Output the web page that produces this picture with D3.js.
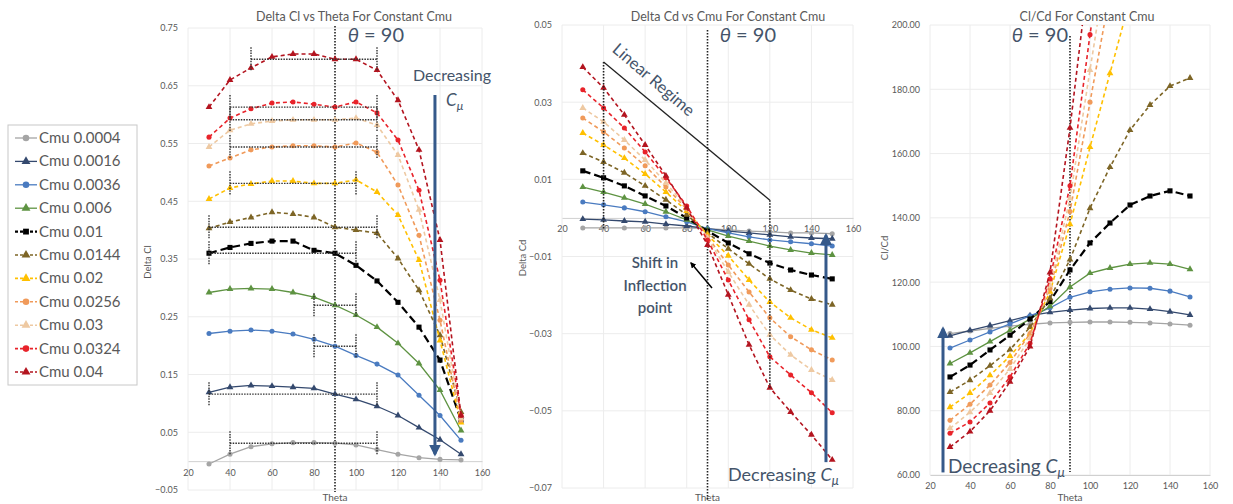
<!DOCTYPE html>
<html>
<head>
<meta charset="utf-8">
<script src="https://cdn.jsdelivr.net/npm/d3@7"></script>
<style>
  body { margin: 0; background: #fff; }
  text { font-family: Lato, "Open Sans", sans-serif; }
</style>
</head>
<body>
<svg id="chart" width="1233" height="504"></svg>
<script>
// data
const thetas = [30, 40, 50, 60, 70, 80, 90, 100, 110, 120, 130, 140, 150];
const thetaTicks = [20, 40, 60, 80, 100, 120, 140, 160];
const cmuNames = ["Cmu 0.0004", "Cmu 0.0016", "Cmu 0.0036", "Cmu 0.006", "Cmu 0.01", "Cmu 0.0144",
  "Cmu 0.02", "Cmu 0.0256", "Cmu 0.03", "Cmu 0.0324", "Cmu 0.04"];

const clTicks = [-0.05, 0.05, 0.15, 0.25, 0.35, 0.45, 0.55, 0.65, 0.75];
const cdTicks = [-0.07, -0.05, -0.03, -0.01, 0.01, 0.03, 0.05];
const ratioTicks = [60, 80, 100, 120, 140, 160, 180, 200];

// Delta Cl vs theta, one row per Cmu
const deltaCl = [
  [-0.005, 0.012, 0.025, 0.030, 0.032, 0.032, 0.031, 0.028, 0.020, 0.012, 0.006, 0.003, 0.002],
  [0.119, 0.128, 0.131, 0.130, 0.128, 0.126, 0.116, 0.107, 0.095, 0.079, 0.058, 0.037, 0.012],
  [0.221, 0.225, 0.227, 0.225, 0.220, 0.211, 0.199, 0.183, 0.168, 0.149, 0.114, 0.079, 0.036],
  [0.292, 0.298, 0.299, 0.298, 0.292, 0.284, 0.270, 0.253, 0.232, 0.204, 0.169, 0.123, 0.053],
  [0.360, 0.370, 0.377, 0.381, 0.381, 0.365, 0.360, 0.339, 0.312, 0.275, 0.232, 0.175, 0.071],
  [0.403, 0.414, 0.422, 0.431, 0.428, 0.422, 0.405, 0.400, 0.395, 0.351, 0.296, 0.218, 0.085],
  [0.454, 0.473, 0.480, 0.485, 0.485, 0.481, 0.481, 0.487, 0.466, 0.426, 0.348, 0.209, 0.067],
  [0.511, 0.525, 0.539, 0.544, 0.546, 0.546, 0.544, 0.551, 0.535, 0.478, 0.391, 0.244, 0.071],
  [0.544, 0.573, 0.584, 0.589, 0.591, 0.591, 0.591, 0.594, 0.582, 0.530, 0.435, 0.279, 0.074],
  [0.561, 0.594, 0.610, 0.620, 0.622, 0.618, 0.613, 0.622, 0.603, 0.556, 0.469, 0.313, 0.079],
  [0.613, 0.660, 0.681, 0.700, 0.705, 0.705, 0.696, 0.696, 0.677, 0.625, 0.539, 0.383, 0.079]
];
// horizontal error bars on the theta = 90 point (theta from / to)
const clErrFrom = [40, 30, 80, 80, 30, 30, 40, 40, 40, 40, 50];
const clErrTo = [110, 110, 100, 100, 100, 110, 100, 110, 110, 110, 110];

// Delta Cd vs theta
const deltaCd = [
  [-0.0026, -0.0026, -0.0026, -0.0026, -0.0026, -0.0026, -0.0028, -0.0031, -0.0034, -0.0036, -0.0039, -0.0039, -0.0041],
  [-0.0003, -0.0005, -0.0008, -0.0010, -0.0016, -0.0021, -0.0028, -0.0034, -0.0039, -0.0044, -0.0049, -0.0052, -0.0054],
  [0.0041, 0.0034, 0.0026, 0.0016, 0.0003, -0.0010, -0.0028, -0.0039, -0.0049, -0.0057, -0.0062, -0.0067, -0.0073],
  [0.0080, 0.0067, 0.0052, 0.0036, 0.0016, -0.0005, -0.0031, -0.0047, -0.0060, -0.0073, -0.0083, -0.0091, -0.0096],
  [0.0122, 0.0104, 0.0083, 0.0057, 0.0031, 0.0000, -0.0034, -0.0065, -0.0093, -0.0117, -0.0135, -0.0148, -0.0158],
  [0.0168, 0.0145, 0.0117, 0.0083, 0.0047, 0.0008, -0.0039, -0.0080, -0.0119, -0.0158, -0.0187, -0.0210, -0.0225],
  [0.0220, 0.0189, 0.0155, 0.0114, 0.0067, 0.0018, -0.0044, -0.0098, -0.0161, -0.0218, -0.0259, -0.0290, -0.0311],
  [0.0259, 0.0223, 0.0181, 0.0135, 0.0080, 0.0023, -0.0049, -0.0122, -0.0192, -0.0259, -0.0308, -0.0342, -0.0368],
  [0.0285, 0.0249, 0.0202, 0.0150, 0.0091, 0.0026, -0.0052, -0.0140, -0.0225, -0.0303, -0.0355, -0.0394, -0.0420],
  [0.0332, 0.0285, 0.0233, 0.0171, 0.0104, 0.0031, -0.0057, -0.0161, -0.0264, -0.0360, -0.0407, -0.0453, -0.0505],
  [0.0391, 0.0337, 0.0267, 0.0189, 0.0109, 0.0026, -0.0070, -0.0199, -0.0329, -0.0440, -0.0503, -0.0562, -0.0627]
];

// Cl/Cd vs theta
const clOverCd = [
  [104.0, 104.8, 105.6, 106.3, 106.9, 107.3, 107.5, 107.6, 107.6, 107.5, 107.3, 107.0, 106.6],
  [103.3, 105.0, 106.5, 108.0, 109.6, 110.6, 111.3, 111.8, 112.0, 112.0, 111.6, 110.8, 109.8],
  [99.5, 102.0, 104.5, 107.0, 109.5, 112.0, 115.3, 117.0, 117.8, 118.2, 118.1, 117.2, 115.4],
  [94.7, 98.0, 101.5, 105.0, 108.5, 112.5, 118.5, 122.8, 124.4, 125.6, 126.0, 125.6, 124.0],
  [90.5, 94.2, 98.9, 103.5, 108.5, 114.0, 123.8, 132.2, 138.4, 144.0, 146.8, 148.4, 146.8],
  [85.8, 89.5, 94.0, 99.0, 106.0, 115.0, 127.0, 143.0, 155.8, 167.3, 175.1, 181.0, 183.5],
  [81.1, 85.5, 91.0, 97.0, 104.0, 117.0, 138.0, 162.0, 185.0, 208.0, 228.0, 245.0, 258.0],
  [77.0, 82.0, 88.0, 95.0, 104.0, 118.0, 142.0, 176.0, 210.0, 240.0, 265.0, 285.0, 300.0],
  [74.5, 79.5, 85.5, 93.0, 102.5, 119.0, 146.0, 186.0, 225.0, 260.0, 290.0, 310.0, 325.0],
  [73.0, 76.5, 82.4, 90.5, 101.0, 121.0, 150.0, 197.0, 240.0, 280.0, 310.0, 335.0, 355.0],
  [68.7, 73.5, 80.0, 89.0, 100.0, 123.0, 168.0, 220.0, 260.0, 300.0, 330.0, 355.0, 375.0]
];

// styles per series
const colors = ["#a5a5a5", "#34496e", "#4a7bc0", "#5e9342", "#000000", "#7d6526",
  "#ffc000", "#f09a5a", "#eec9a2", "#e8232a", "#b3141f"];
const shapes = [d3.symbolCircle, d3.symbolTriangle, d3.symbolCircle, d3.symbolTriangle, d3.symbolSquare,
  d3.symbolTriangle, d3.symbolTriangle, d3.symbolCircle, d3.symbolTriangle, d3.symbolCircle, d3.symbolTriangle];
const dashes = [null, null, null, null, "8,4", "4,3", "4,3", "4,3", "4,3", "4,3", "4,3"];
const widths = [1.3, 1.3, 1.3, 1.3, 2.2, 1.6, 1.6, 1.6, 1.6, 1.6, 1.6];

const annot = "#44546a";
const arrowBlue = "#35598a";
const grid = "#ececec";
const labelGrey = "#595959";

const svg = d3.select("#chart");

const defs = svg.append("defs");
function addArrow(id, color) {
  defs.append("marker")
    .attr("id", id)
    .attr("viewBox", "0 0 10 10")
    .attr("refX", 8).attr("refY", 5)
    .attr("markerWidth", 4).attr("markerHeight", 4)
    .attr("orient", "auto-start-reverse")
    .append("path")
    .attr("d", "M0,0 L10,5 L0,10 z")
    .attr("fill", color);
}
addArrow("arrBlue", arrowBlue);
addArrow("arrBlack", "#000");

function drawPanel(p) {
  const x = d3.scaleLinear().domain([20, 160]).range(p.xRange);
  const y = d3.scaleLinear().domain(p.yDomain).range(p.yRange);
  const g = svg.append("g").attr("class", "panel_" + p.id);

  defs.append("clipPath").attr("id", "clip_" + p.id)
    .append("rect")
    .attr("x", p.xRange[0]).attr("y", p.yRange[1])
    .attr("width", p.xRange[1] - p.xRange[0])
    .attr("height", p.yRange[0] - p.yRange[1]);

  // grid lines
  g.append("g").selectAll("line").data(p.yTicks).enter().append("line")
    .attr("x1", p.xRange[0]).attr("x2", p.xRange[1])
    .attr("y1", d => y(d)).attr("y2", d => y(d))
    .attr("stroke", grid);
  g.append("g").selectAll("line").data(thetaTicks).enter().append("line")
    .attr("x1", d => x(d)).attr("x2", d => x(d))
    .attr("y1", p.yRange[1]).attr("y2", p.yRange[0])
    .attr("stroke", grid);

  // y axis
  const ya = g.append("g")
    .attr("transform", "translate(" + p.xRange[0] + ",0)")
    .call(d3.axisLeft(y).tickValues(p.yTicks).tickFormat(d3.format(".2f")).tickSize(0).tickPadding(10));
  ya.select(".domain").remove();
  ya.selectAll("text").attr("fill", labelGrey).style("font-size", "9px").style("font-family", "Lato");

  // x axis
  const xa = g.append("g")
    .attr("transform", "translate(0," + y(p.xCross) + ")")
    .call(d3.axisBottom(x).tickValues(thetaTicks).tickSize(0).tickPadding(8));
  xa.select(".domain").attr("stroke", "#d0d0d0");
  xa.selectAll("text").attr("fill", labelGrey).style("font-size", "9px").style("font-family", "Lato");

  // titles
  g.append("text").attr("x", p.titleX).attr("y", 21).attr("text-anchor", "middle")
    .attr("fill", labelGrey).style("font-size", "12.5px").text(p.title);
  g.append("text").attr("x", x(90)).attr("y", 501).attr("text-anchor", "middle")
    .attr("fill", labelGrey).style("font-size", "10px").text("Theta");
  g.append("text")
    .attr("transform", "translate(" + p.yTitleX + "," + p.yTitleY + ") rotate(-90)")
    .attr("text-anchor", "middle").attr("fill", labelGrey).style("font-size", "9.5px").text(p.yTitle);

  return { x, y, g };
}

function drawSeries(panel, rows, id) {
  const line = d3.line().x((d, i) => panel.x(thetas[i])).y(d => panel.y(d));
  const sg = panel.g.append("g").attr("clip-path", "url(#clip_" + id + ")");
  rows.forEach(function (row, k) {
    sg.append("path")
      .attr("d", line(row))
      .attr("fill", "none")
      .attr("stroke", colors[k])
      .attr("stroke-width", widths[k])
      .attr("stroke-dasharray", dashes[k]);
    sg.selectAll(null).data(row).enter().append("path")
      .attr("transform", (d, i) => "translate(" + panel.x(thetas[i]) + "," + panel.y(d) + ")")
      .attr("d", d3.symbol().type(shapes[k]).size(k === 4 ? 26 : 20))
      .attr("fill", colors[k]);
  });
  return sg;
}

function thetaLabel(g, xEnd, yPos) {
  const t = g.append("text").attr("x", xEnd).attr("y", yPos).attr("text-anchor", "end")
    .attr("fill", annot).style("font-size", "20px");
  t.append("tspan").attr("font-style", "italic").text("θ");
  t.append("tspan").text(" = 90");
}

function cmuText(g, xPos, yPos, size, withWord) {
  const t = g.append("text").attr("x", xPos).attr("y", yPos).attr("fill", annot).style("font-size", size + "px");
  if (withWord) t.append("tspan").text("Decreasing ");
  t.append("tspan").attr("font-style", "italic").text("C");
  t.append("tspan").attr("font-style", "italic").attr("dy", 4).style("font-size", (size * 0.7) + "px").text("μ");
}

/* LEFT: Delta Cl */
const left = drawPanel({
  id: "cl", xRange: [188, 482], yDomain: [-0.05, 0.75], yRange: [490, 28], yTicks: clTicks, xCross: 0,
  title: "Delta Cl vs Theta For Constant Cmu", titleX: 354, yTitle: "Delta Cl", yTitleX: 151, yTitleY: 262
});
// theta = 90 line
left.g.append("line")
  .attr("x1", left.x(90)).attr("x2", left.x(90)).attr("y1", 26).attr("y2", 492)
  .attr("stroke", "#222").attr("stroke-width", 1.6).attr("stroke-dasharray", "1.5,1.5");
drawSeries(left, deltaCl, "cl");
// error bars
const eb = left.g.append("g").attr("class", "err");
deltaCl.forEach(function (row, k) {
  const yy = left.y(row[6]);
  eb.append("line").attr("x1", left.x(clErrFrom[k])).attr("x2", left.x(clErrTo[k]))
    .attr("y1", yy).attr("y2", yy);
  [clErrFrom[k], clErrTo[k]].forEach(function (t) {
    eb.append("line").attr("x1", left.x(t)).attr("x2", left.x(t))
      .attr("y1", yy - 12).attr("y2", yy + 12);
  });
});
eb.selectAll("line").attr("stroke", "#333").attr("stroke-width", 1.4).attr("stroke-dasharray", "1.5,1.2");
thetaLabel(left.g, 404, 42);
left.g.append("text").attr("x", 413).attr("y", 81).attr("fill", annot).style("font-size", "16px").text("Decreasing");
cmuText(left.g, 446, 106, 17, false);
left.g.append("line")
  .attr("x1", left.x(137.6)).attr("x2", left.x(137.6))
  .attr("y1", left.y(0.634)).attr("y2", left.y(0.012))
  .attr("stroke", arrowBlue).attr("stroke-width", 3)
  .attr("marker-end", "url(#arrBlue)");

/* MIDDLE: Delta Cd */
const mid = drawPanel({
  id: "cd", xRange: [562, 853], yDomain: [-0.07, 0.05], yRange: [488, 25], yTicks: cdTicks, xCross: 0,
  title: "Delta Cd vs Cmu For Constant Cmu", titleX: 728, yTitle: "Delta Cd", yTitleX: 526, yTitleY: 258
});
mid.g.append("line")
  .attr("x1", mid.x(90)).attr("x2", mid.x(90)).attr("y1", 30).attr("y2", 500)
  .attr("stroke", "#222").attr("stroke-width", 1.6).attr("stroke-dasharray", "1.5,1.5");
drawSeries(mid, deltaCd, "cd");
// linear regime bracket
const lin = mid.g.append("g");
lin.append("line").attr("x1", mid.x(40)).attr("y1", mid.y(0.0404)).attr("x2", mid.x(120)).attr("y2", mid.y(0.0046))
  .attr("stroke", "#222").attr("stroke-width", 1.3);
lin.append("line").attr("x1", mid.x(40)).attr("y1", mid.y(0.0404)).attr("x2", mid.x(40)).attr("y2", mid.y(-0.0031));
lin.append("line").attr("x1", mid.x(120)).attr("y1", mid.y(0.0046)).attr("x2", mid.x(120)).attr("y2", mid.y(-0.044));
lin.selectAll("line:not(:first-child)").attr("stroke", "#222").attr("stroke-width", 1.6).attr("stroke-dasharray", "1.5,1.5");
mid.g.append("text")
  .attr("transform", "translate(650,84) rotate(40.5)")
  .attr("text-anchor", "middle").attr("fill", annot).style("font-size", "16.5px").text("Linear Regime");
thetaLabel(mid.g, 776, 42);
// inflection note
const infl = mid.g.append("text").attr("text-anchor", "middle").attr("fill", annot)
  .style("font-size", "15px").style("font-weight", "600");
["Shift in", "Inflection", "point"].forEach(function (s, i) {
  infl.append("tspan").attr("x", 655).attr("y", 268 + i * 22.5).text(s);
});
mid.g.append("line").attr("x1", 712).attr("y1", 288).attr("x2", 691).attr("y2", 263)
  .attr("stroke", "#000").attr("stroke-width", 1.5).attr("marker-end", "url(#arrBlack)");
mid.g.append("line")
  .attr("x1", mid.x(147)).attr("x2", mid.x(147))
  .attr("y1", mid.y(-0.0633)).attr("y2", mid.y(-0.0045))
  .attr("stroke", arrowBlue).attr("stroke-width", 3)
  .attr("marker-end", "url(#arrBlue)");
cmuText(mid.g, 728, 481, 18, true);

/* RIGHT: Cl/Cd */
const right = drawPanel({
  id: "ratio", xRange: [930, 1210], yDomain: [60, 200], yRange: [475, 25], yTicks: ratioTicks, xCross: 60,
  title: "Cl/Cd For Constant Cmu", titleX: 1087, yTitle: "Cl/Cd", yTitleX: 888, yTitleY: 248
});
right.g.append("line")
  .attr("x1", right.x(90)).attr("x2", right.x(90)).attr("y1", 36).attr("y2", 472)
  .attr("stroke", "#222").attr("stroke-width", 1.6).attr("stroke-dasharray", "1.5,1.5");
drawSeries(right, clOverCd, "ratio");
thetaLabel(right.g, 1068, 42);
right.g.append("line")
  .attr("x1", right.x(26.5)).attr("x2", right.x(26.5))
  .attr("y1", right.y(60.8)).attr("y2", right.y(105.5))
  .attr("stroke", arrowBlue).attr("stroke-width", 3)
  .attr("marker-end", "url(#arrBlue)");
cmuText(right.g, 948, 473, 19, true);

/* LEGEND */
const leg = svg.append("g").attr("class", "legend");
leg.append("rect").attr("x", 8).attr("y", 125).attr("width", 129).attr("height", 260)
  .attr("fill", "#fff").attr("stroke", "#c8c8c8");
const items = leg.selectAll("g.item").data(cmuNames).enter().append("g")
  .attr("class", "item")
  .attr("transform", (d, i) => "translate(0," + (138 + i * 23.4) + ")");
items.append("line").attr("x1", 15).attr("x2", 37).attr("y1", 0).attr("y2", 0)
  .attr("stroke", (d, i) => colors[i]).attr("stroke-width", (d, i) => widths[i])
  .attr("stroke-dasharray", (d, i) => dashes[i] ? "3,2" : null);
items.append("path").attr("transform", "translate(26,0)")
  .attr("d", (d, i) => d3.symbol().type(shapes[i]).size(34)())
  .attr("fill", (d, i) => colors[i]);
items.append("text").attr("x", 39).attr("y", 5).attr("fill", labelGrey)
  .style("font-size", "15px").text(d => d);
</script>
</body>
</html>
